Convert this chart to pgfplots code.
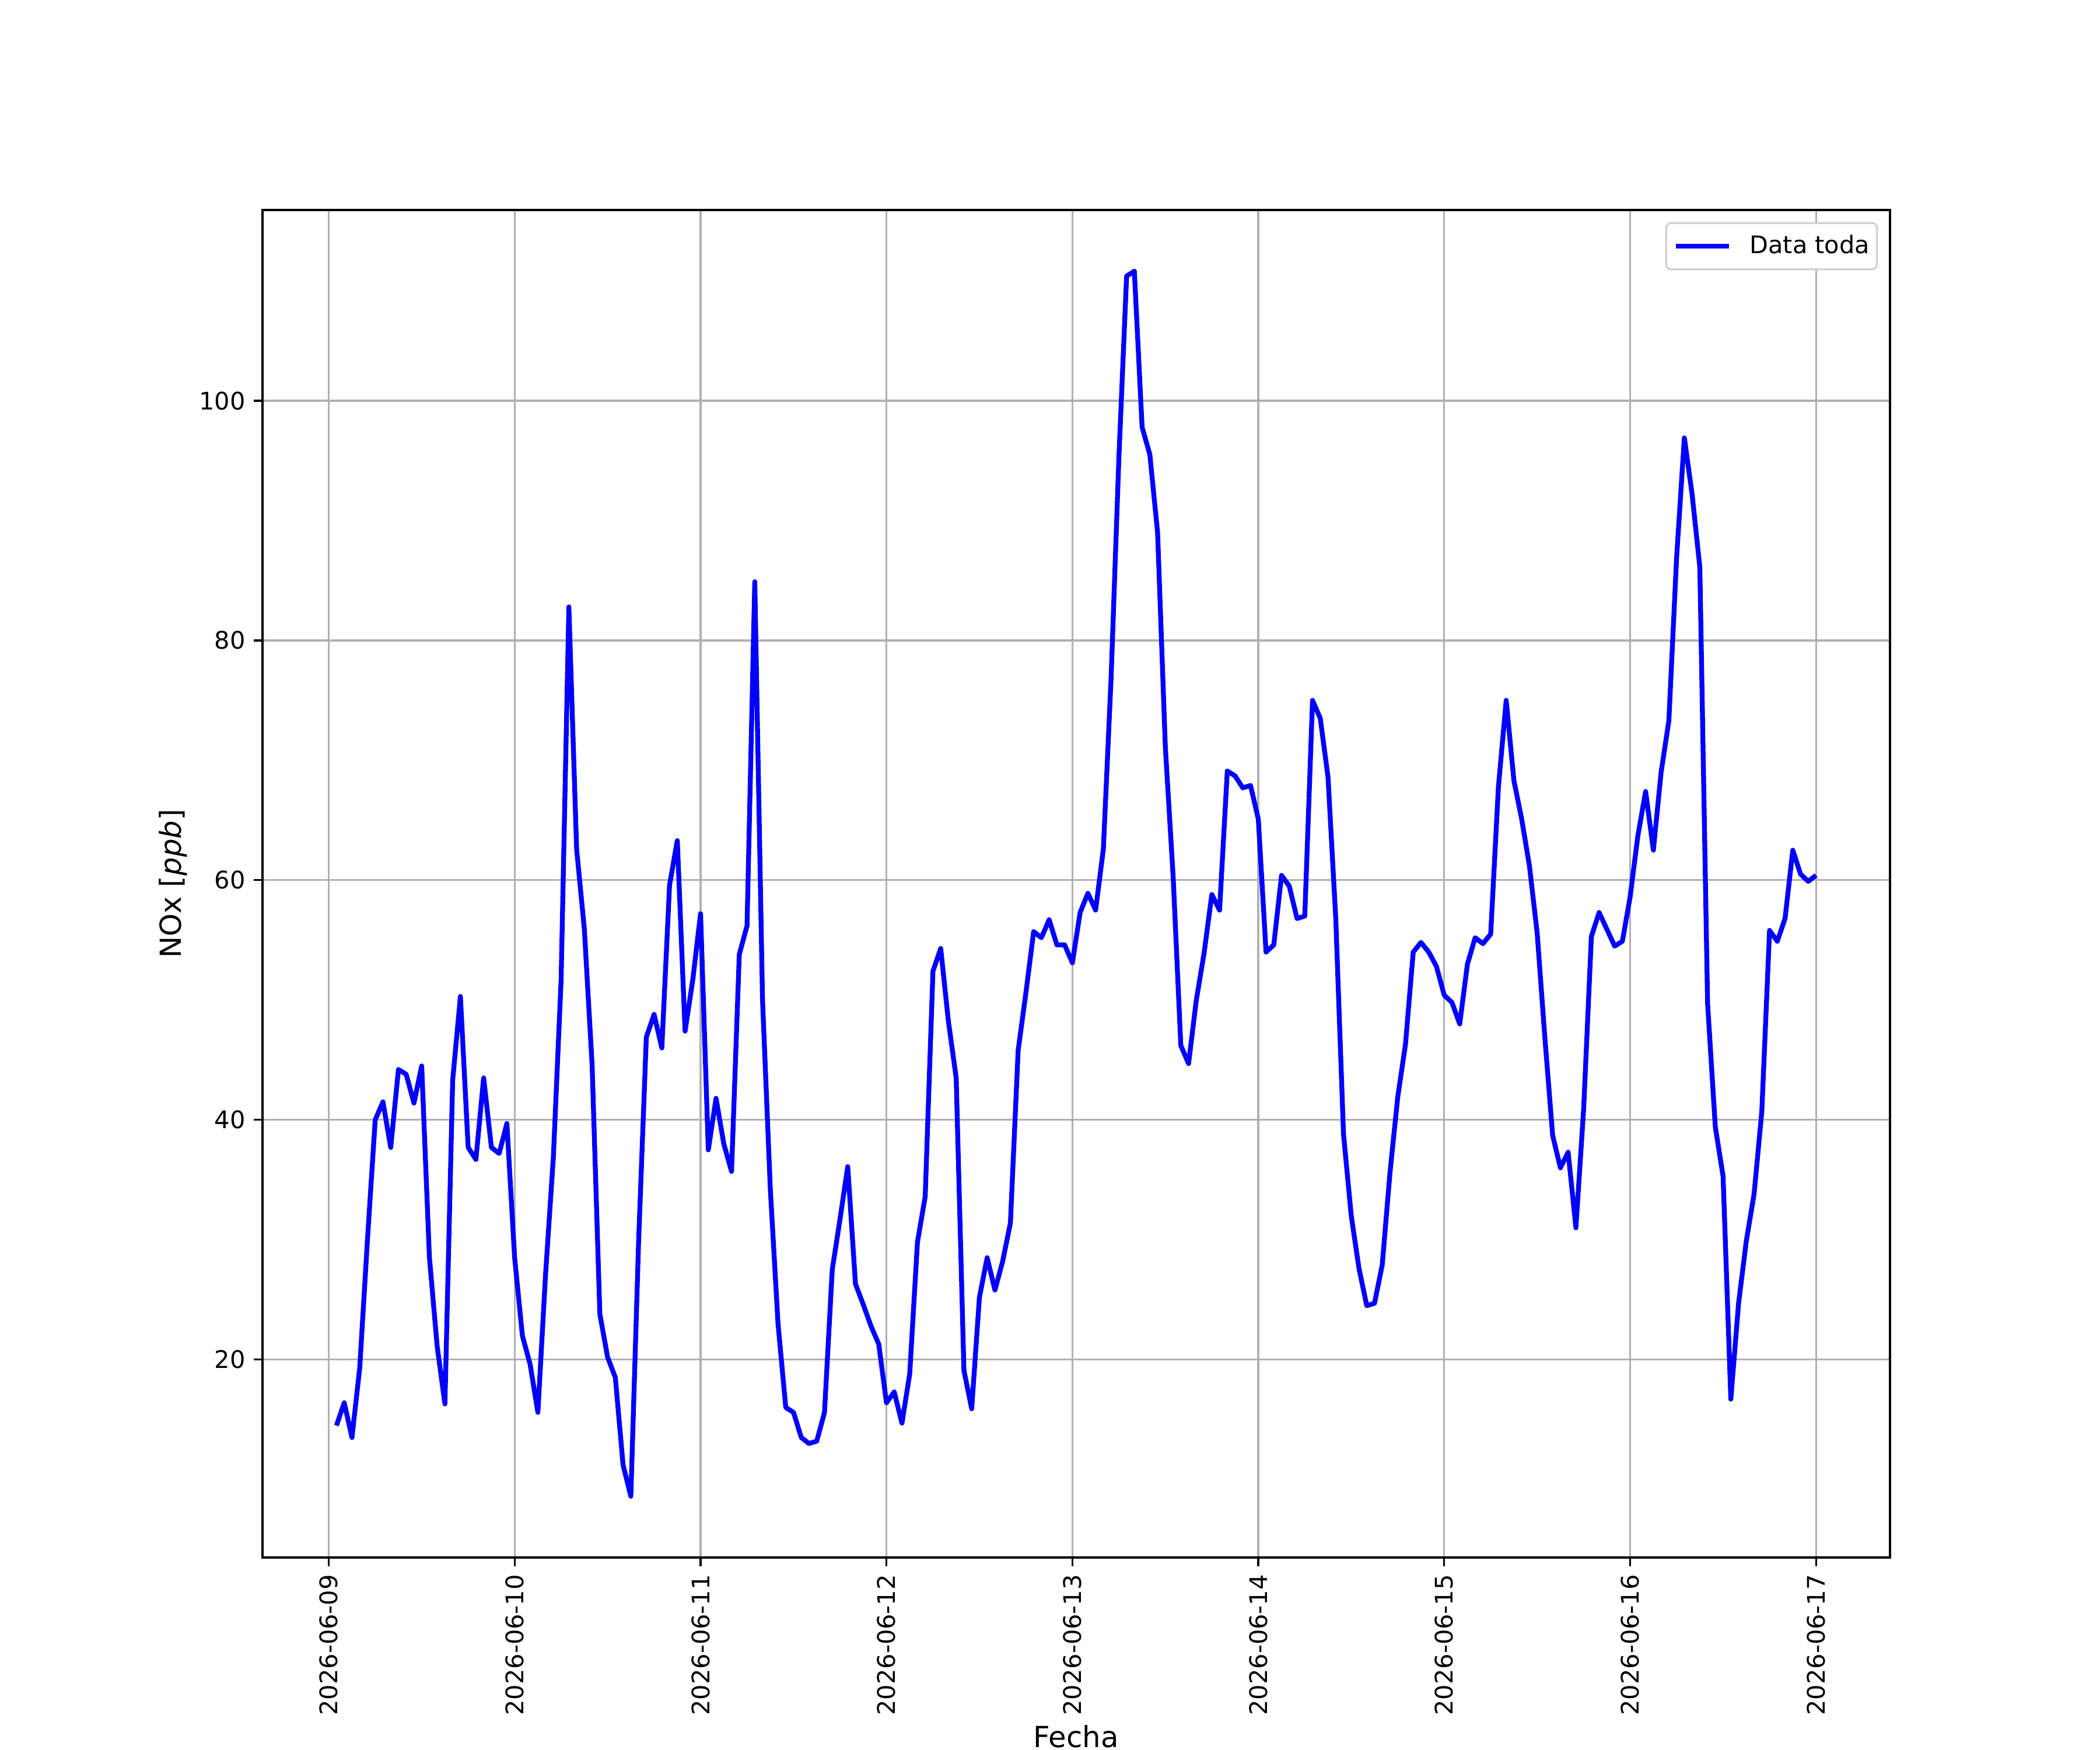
\documentclass[border=0pt]{standalone}
\usepackage{fontspec}
\setmainfont{DejaVu Sans}
\usepackage{pgfplots}
\pgfplotsset{compat=1.18}
\usepackage{pgfplotstable}
\pgfplotstableread{
h v
1 14.5
2 16.4
3 13.5
4 19.3
5 30.0
6 40.0
7 41.5
8 37.7
9 44.2
10 43.8
11 41.4
12 44.5
13 28.5
14 21.1
15 16.3
16 43.3
17 50.3
18 37.7
19 36.7
20 43.5
21 37.7
22 37.2
23 39.7
24 28.5
25 22.0
26 19.6
27 15.6
28 27.2
29 36.9
30 51.7
31 82.8
32 62.6
33 55.9
34 44.6
35 23.8
36 20.2
37 18.5
38 11.2
39 8.6
40 29.8
41 46.9
42 48.8
43 46.0
44 59.6
45 63.3
46 47.4
47 51.7
48 57.2
49 37.5
50 41.8
51 38.0
52 35.7
53 53.8
54 56.2
55 84.9
56 50.0
57 34.3
58 23.0
59 16.0
60 15.6
61 13.5
62 13.0
63 13.2
64 15.6
65 27.5
66 31.7
67 36.1
68 26.3
69 24.6
70 22.8
71 21.3
72 16.4
73 17.3
74 14.7
75 18.8
76 29.8
77 33.6
78 52.4
79 54.3
80 48.2
81 43.5
82 19.1
83 15.9
84 25.2
85 28.5
86 25.8
87 28.2
88 31.4
89 45.8
90 50.6
91 55.7
92 55.2
93 56.7
94 54.6
95 54.6
96 53.1
97 57.3
98 58.9
99 57.5
100 62.6
101 76.9
102 95.2
103 110.4
104 110.8
105 97.8
106 95.5
107 89.0
108 71.1
109 60.4
110 46.2
111 44.7
112 50.0
113 53.9
114 58.8
115 57.5
116 69.1
117 68.7
118 67.7
119 67.9
120 65.1
121 54.0
122 54.6
123 60.4
124 59.5
125 56.8
126 57.0
127 75.0
128 73.5
129 68.6
130 56.8
131 38.8
132 32.0
133 27.6
134 24.5
135 24.7
136 27.9
137 35.6
138 41.9
139 46.3
140 54.0
141 54.8
142 54.0
143 52.8
144 50.4
145 49.8
146 48.0
147 53.0
148 55.2
149 54.7
150 55.5
151 67.8
152 75.0
153 68.3
154 65.1
155 61.2
156 55.6
157 46.8
158 38.7
159 36.0
160 37.3
161 31.0
162 40.9
163 55.3
164 57.3
165 55.9
166 54.5
167 54.9
168 58.6
169 63.7
170 67.4
171 62.5
172 69.0
173 73.3
174 86.9
175 96.9
176 92.2
177 86.1
178 49.7
179 39.4
180 35.3
181 16.7
182 24.7
183 29.9
184 33.8
185 40.7
186 55.8
187 54.9
188 56.8
189 62.5
190 60.5
191 59.9
192 60.4
}\datatable
\begin{document}
\begin{tikzpicture}
\path[use as bounding box] (-1.5in,-1.1in) rectangle (10.5in,8.9in);
\begin{axis}[
  at={(0,0)}, anchor=south west, scale only axis,
  width=9.3in, height=7.7in,
  xmin=-8.55, xmax=201.55, ymin=3.49, ymax=115.91,
  xtick={0,24,48,72,96,120,144,168,192},
  xticklabels={2026-06-09,2026-06-10,2026-06-11,2026-06-12,2026-06-13,2026-06-14,2026-06-15,2026-06-16,2026-06-17},
  ytick={20,40,60,80,100},
  xtick pos=lower, ytick pos=left,
  tick align=outside, major tick length=3.5pt,
  tick style={black, line width=0.8pt},
  axis line style={line width=0.8pt},
  grid=major, major grid style={color=black!31, line width=0.8pt},
  /pgf/number format/assume math mode=true,
  ticklabel style={font=\fontsize{10}{12}\selectfont},
  xticklabel style={rotate=90, anchor=east},
  xlabel={Fecha}, ylabel={NOx [\textit{ppb}]},
  label style={font=\fontsize{12}{14}\selectfont},
  xlabel style={at={(axis description cs:0.5,0)}, anchor=base, yshift=-78.3pt},
  ylabel style={at={(axis description cs:0,0.5)}, anchor=base, yshift=33.5pt},
  legend style={at={(rel axis cs:1,1)}, anchor=north east, xshift=-5pt, yshift=-5pt,
    draw=black!18, line width=0.8pt, rounded corners=2pt,
    inner xsep=3pt, inner ysep=5pt,
    nodes={inner sep=0pt},
    /tikz/every odd column/.append style={column sep=7.5pt},
    font=\fontsize{10}{12}\selectfont},
  legend cell align=left,
  legend image code/.code={\draw[#1] (0pt,0pt) -- (22pt,0pt);},
]
\addplot[blue, line width=2pt, line join=round] table[x=h, y=v] {\datatable};
\addlegendentry{Data toda}
\end{axis}
\end{tikzpicture}
\end{document}
